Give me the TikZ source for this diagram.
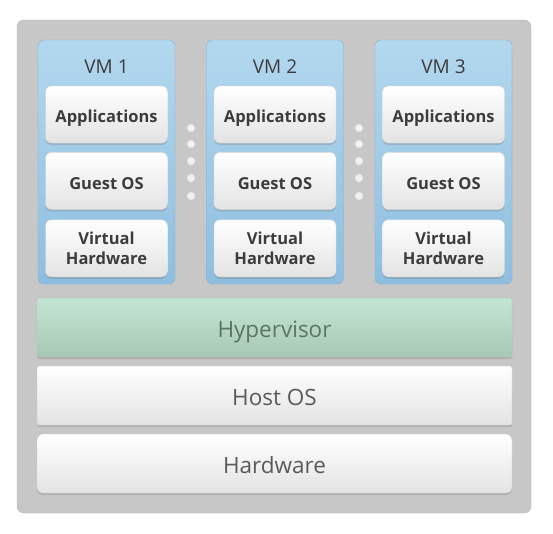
\documentclass[tikz,border=0pt]{standalone}
\usepackage{fontspec}
\setmainfont{Open Sans}
\usetikzlibrary{shadows, positioning}

\definecolor{frameGrey}{HTML}{C7C7C7}
\definecolor{frameLine}{HTML}{B4B4B4}
\definecolor{vmTop}{HTML}{B2D8EE}
\definecolor{vmBottom}{HTML}{8EBEDF}
\definecolor{vmLine}{HTML}{7FB0D3}
\definecolor{boxBottom}{HTML}{E3E3E3}
\definecolor{hypTop}{HTML}{C5E5D4}
\definecolor{hypBottom}{HTML}{A8C8B5}
\definecolor{textDark}{HTML}{3C3C3C}
\definecolor{textGrey}{HTML}{5A5A5A}
\definecolor{textGreen}{HTML}{5B7565}

\begin{document}
\begin{tikzpicture}[x=1pt,y=-1pt,node distance=9pt]
   \tikzstyle{frame}=[rounded corners=7pt,fill=frameGrey,draw=frameLine,
                      minimum width=514pt,minimum height=493pt]
   \tikzstyle{vmbox}=[rounded corners=6pt,top color=vmTop,bottom color=vmBottom,
                      draw=vmLine,minimum width=137pt,minimum height=244pt]
   \tikzstyle{inner}=[rounded corners=6pt,top color=white,bottom color=boxBottom,
                      draw=white!85!black,minimum width=122pt,minimum height=57pt,
                      drop shadow={shadow xshift=0pt,shadow yshift=-2pt,opacity=0.35},
                      text=textDark,font=\fontsize{16.5}{20}\selectfont\bfseries,
                      align=center]
   \tikzstyle{layer}=[rounded corners=2pt,top color=white,bottom color=boxBottom,
                      draw=white!80!black,minimum width=475pt,minimum height=59pt,
                      drop shadow={shadow xshift=0pt,shadow yshift=-2pt,opacity=0.3},
                      text=textGrey,font=\fontsize{22.5}{26}\selectfont,
                      text height=20pt,text depth=0pt]
   \tikzstyle{dot}=[circle,fill=white!94!black,draw=white!80!black,
                    inner sep=0pt,minimum size=8.5pt]

   \useasboundingbox (0,0) rectangle (553,533);

   \node[frame] (host) at (274,266.5) {};

   \foreach \i/\x in {1/106.5,2/275,3/443.5} {
      \node[vmbox] (vm\i) at (\x,162) {};
      \node[text=textDark,font=\fontsize{19}{22}\selectfont] (lbl\i) at (\x,67) {VM \i};
      \node[inner,text height=16pt,text depth=0pt] (app\i) at (\x,114.5) {Applications};
      \node[inner,text height=17pt,text depth=0pt] (gos\i) [below=of app\i] {Guest OS};
      \node[inner] (vhw\i) [below=10pt of gos\i] {Virtual\\Hardware};
   }

   % dots between the VMs
   \foreach \j/\x in {1/191,2/359}
      \foreach \k/\y in {1/128,2/144,3/161,4/178,5/196}
         \node[dot] (dot\j\k) at (\x,\y) {};

   \node[layer,top color=hypTop,bottom color=hypBottom,draw=hypBottom,
         text=textGreen] (hyp) at (274.5,327.5) {Hypervisor};
   \node[layer] (hos) at (274.5,395.5) {Host OS};
   \node[layer,rounded corners=6pt] (hw) at (274.5,463.5) {Hardware};
\end{tikzpicture}
\end{document}
